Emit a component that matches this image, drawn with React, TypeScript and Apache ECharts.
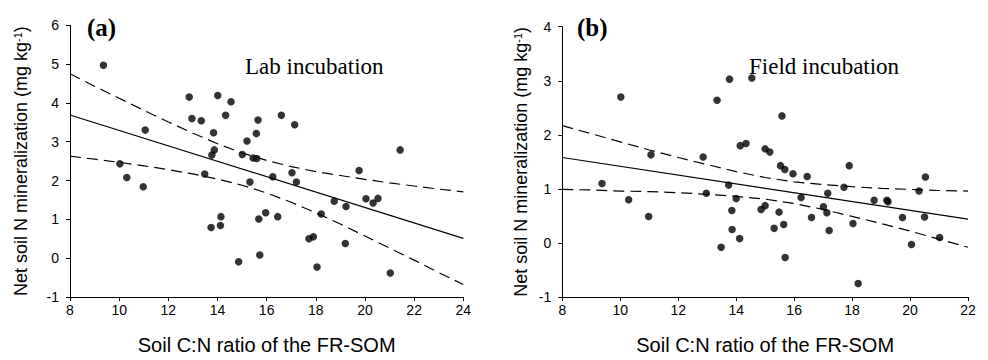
import React, { useEffect, useRef } from "react";
import * as echarts from "echarts";

// Panel (a): Lab incubation
const labX = [9.36, 10.03, 10.31, 10.98, 11.06, 12.85, 12.96, 13.34, 13.48, 13.74, 13.77, 13.84, 13.87, 14.01, 14.12, 14.14, 14.33, 14.55, 14.86, 15.01, 15.2, 15.32, 15.45, 15.6, 15.58, 15.65, 15.68, 15.72, 15.96, 16.25, 16.45, 16.6, 17.03, 17.14, 17.21, 17.72, 17.9, 18.05, 18.22, 18.75, 19.2, 19.23, 19.76, 20.04, 20.33, 20.53, 21.03, 21.43];
const labY = [4.97, 2.43, 2.08, 1.84, 3.3, 4.15, 3.6, 3.54, 2.17, 0.79, 2.66, 3.23, 2.79, 4.19, 0.84, 1.07, 3.68, 4.03, -0.09, 2.67, 3.02, 1.96, 2.58, 2.57, 3.21, 3.56, 1.01, 0.08, 1.17, 2.1, 1.07, 3.68, 2.2, 3.44, 1.96, 0.5, 0.55, -0.23, 1.14, 1.47, 0.38, 1.33, 2.26, 1.53, 1.42, 1.54, -0.38, 2.79];
const labFitX = [8, 24];
const labFitY = [3.69, 0.51];
const labBandX = [8, 9, 10, 11, 12, 13, 14, 15, 16, 17, 18, 19, 20, 21, 22, 23, 24];
const labUpper = [4.75, 4.43, 4.12, 3.81, 3.51, 3.22, 2.95, 2.71, 2.52, 2.36, 2.23, 2.13, 2.03, 1.94, 1.86, 1.78, 1.71];
const labLower = [2.63, 2.55, 2.47, 2.38, 2.28, 2.17, 2.04, 1.88, 1.68, 1.44, 1.17, 0.88, 0.57, 0.26, -0.05, -0.37, -0.68];

// Panel (b): Field incubation
const fieldX = [9.37, 10.02, 10.29, 10.98, 11.06, 12.86, 12.97, 13.34, 13.48, 13.74, 13.77, 13.85, 13.86, 14.0, 14.12, 14.14, 14.34, 14.54, 14.86, 15.0, 15.0, 15.16, 15.31, 15.48, 15.53, 15.58, 15.64, 15.68, 15.69, 15.96, 16.24, 16.45, 16.6, 17.01, 17.13, 17.16, 17.21, 17.72, 17.9, 18.03, 18.21, 18.76, 19.2, 19.24, 19.74, 20.05, 20.31, 20.5, 20.53, 21.02];
const fieldY = [1.1, 2.7, 0.8, 0.49, 1.63, 1.59, 0.92, 2.64, -0.08, 1.07, 3.03, 0.6, 0.25, 0.82, 0.08, 1.8, 1.84, 3.05, 0.62, 0.69, 1.74, 1.68, 0.27, 0.57, 1.43, 2.35, 0.34, 1.36, -0.27, 1.28, 0.84, 1.23, 0.47, 0.67, 0.56, 0.92, 0.23, 1.03, 1.43, 0.36, -0.75, 0.79, 0.79, 0.76, 0.47, -0.03, 0.96, 0.48, 1.22, 0.1];
const fieldFitX = [8, 22];
const fieldFitY = [1.58, 0.44];
const fieldBandX = [8, 9, 10, 11, 12, 13, 14, 15, 16, 17, 18, 19, 20, 21, 22];
const fieldUpper = [2.17, 2.02, 1.87, 1.72, 1.58, 1.45, 1.32, 1.21, 1.13, 1.08, 1.04, 1.01, 0.99, 0.97, 0.96];
const fieldLower = [0.99, 0.98, 0.96, 0.95, 0.93, 0.9, 0.86, 0.81, 0.73, 0.62, 0.49, 0.36, 0.22, 0.07, -0.08];

const xName = "Soil C:N ratio of the FR-SOM";
const yName = "Net soil N mineralization (mg kg{sup|-1})";

const SANS = "'Liberation Sans', Arial, Helvetica, sans-serif";
const SERIF = "'Liberation Serif', 'Times New Roman', serif";

const zip = (xs: number[], ys: number[]) => xs.map((x, i) => [x, ys[i]]);

function xAxisCfg(gridIndex: number, max: number) {
  return {
    type: "value",
    gridIndex,
    min: 8,
    max,
    interval: 2,
    name: xName,
    nameLocation: "middle",
    nameGap: 38,
    nameTextStyle: { fontSize: 20, fontFamily: SANS, color: "#000" },
    axisLine: { show: true, onZero: false, lineStyle: { color: "#000", width: 1 } },
    axisTick: { show: true, inside: false, length: 4, lineStyle: { color: "#000" } },
    axisLabel: { fontSize: 14, fontFamily: SANS, color: "#000", margin: 6 },
    splitLine: { show: false },
  };
}

function yAxisCfg(gridIndex: number, max: number, gap: number) {
  return {
    type: "value",
    gridIndex,
    min: -1,
    max,
    interval: 1,
    name: yName,
    nameLocation: "middle",
    nameGap: gap,
    nameRotate: 90,
    nameTextStyle: {
      fontSize: 18,
      fontFamily: SANS,
      color: "#000",
      rich: { sup: { fontSize: 11, fontFamily: SANS, color: "#000", verticalAlign: "top" } },
    },
    axisLine: { show: true, onZero: false, lineStyle: { color: "#000", width: 1 } },
    axisTick: { show: true, inside: false, length: 4, lineStyle: { color: "#000" } },
    axisLabel: { fontSize: 14, fontFamily: SANS, color: "#000", margin: 11 },
    splitLine: { show: false },
  };
}

function lineSeries(xi: number, data: number[][], dashed: boolean) {
  return {
    type: "line",
    xAxisIndex: xi,
    yAxisIndex: xi,
    data,
    symbol: "none",
    smooth: false,
    silent: true,
    lineStyle: { color: "#000", width: 1.2, type: dashed ? [11, 6] : "solid" },
    z: 2,
  };
}

function scatterSeries(xi: number, data: number[][]) {
  return {
    type: "scatter",
    xAxisIndex: xi,
    yAxisIndex: xi,
    data,
    symbol: "circle",
    symbolSize: 7.5,
    itemStyle: { color: "#000" },
    z: 3,
  };
}

export default function App() {
  const ref = useRef<HTMLDivElement>(null);
  useEffect(() => {
    document.body.style.margin = "0";
    if (!ref.current) return;
    const chart = echarts.init(ref.current, null, { renderer: "svg" });
    chart.setOption({
      animation: false,
      backgroundColor: "#fff",
      grid: [
        { left: 70, right: 524.7, top: 25.3, bottom: 61.7, containLabel: false },
        { left: 562.3, right: 20, top: 26.7, bottom: 61.7, containLabel: false },
      ],
      xAxis: [xAxisCfg(0, 24), xAxisCfg(1, 22)],
      yAxis: [yAxisCfg(0, 6, 40), yAxisCfg(1, 4, 32)],
      series: [
        scatterSeries(0, zip(labX, labY)),
        lineSeries(0, zip(labFitX, labFitY), false),
        lineSeries(0, zip(labBandX, labUpper), true),
        lineSeries(0, zip(labBandX, labLower), true),
        scatterSeries(1, zip(fieldX, fieldY)),
        lineSeries(1, zip(fieldFitX, fieldFitY), false),
        lineSeries(1, zip(fieldBandX, fieldUpper), true),
        lineSeries(1, zip(fieldBandX, fieldLower), true),
      ],
      graphic: [
        { type: "text", x: 87, y: 27, style: { text: "(a)", font: `bold 25px ${SERIF}`, fill: "#000", textAlign: "left", textVerticalAlign: "middle" } },
        { type: "text", x: 245, y: 66, style: { text: "Lab incubation", font: `23px ${SERIF}`, fill: "#000", textAlign: "left", textVerticalAlign: "middle" } },
        { type: "text", x: 577, y: 27, style: { text: "(b)", font: `bold 25px ${SERIF}`, fill: "#000", textAlign: "left", textVerticalAlign: "middle" } },
        { type: "text", x: 749, y: 66, style: { text: "Field incubation", font: `23px ${SERIF}`, fill: "#000", textAlign: "left", textVerticalAlign: "middle" } },
      ],
    });
    return () => chart.dispose();
  }, []);
  return <div ref={ref} style={{ width: 988, height: 360 }} />;
}
